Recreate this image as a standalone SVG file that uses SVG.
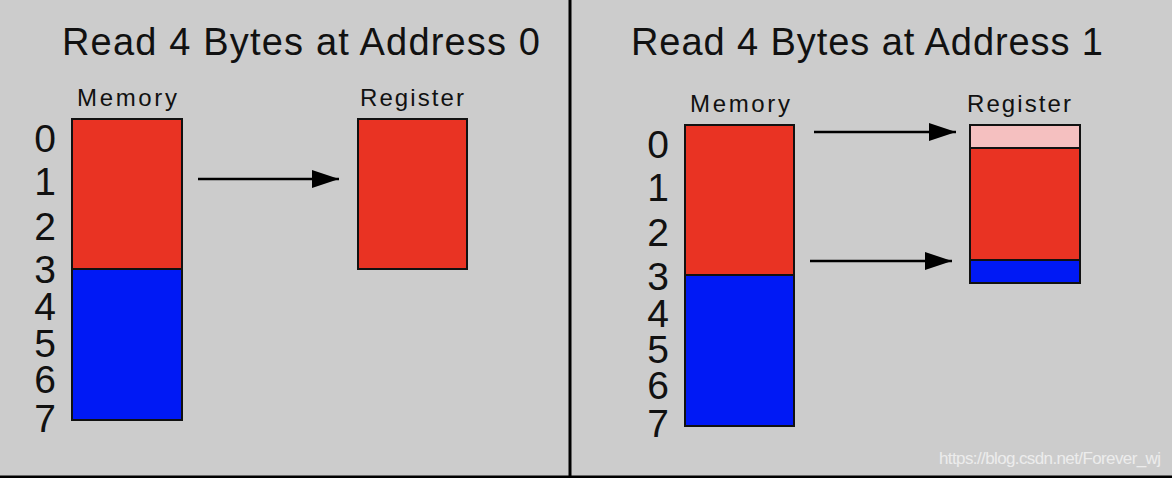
<svg xmlns="http://www.w3.org/2000/svg" width="1172" height="478" viewBox="0 0 1172 478">
<defs>
<style>
.t{font-family:"Liberation Sans",Arial,sans-serif;fill:#111;}
.title{font-size:38px;}
.lab{font-size:24px;text-anchor:middle;}
.dig{font-size:39px;text-anchor:middle;}
.red{fill:#e93323;stroke:#111;stroke-width:2;}
.blue{fill:#0019f5;stroke:#111;stroke-width:2;}
.pink{fill:#f5c0c0;stroke:#111;stroke-width:2;}
.arr{stroke:#000;stroke-width:2.5;fill:none;marker-end:url(#ah);}
</style>
<marker id="ah" markerUnits="userSpaceOnUse" markerWidth="28" markerHeight="20" refX="27" refY="9" orient="auto">
<path d="M0,0 L27,9 L0,18 Z" fill="#000"/>
</marker>
</defs>
<rect x="0" y="0" width="1172" height="478" fill="#cccccc"/>
<rect x="568.5" y="0" width="3" height="478" fill="#000"/>
<rect x="0" y="475.5" width="1172" height="2.5" fill="#000"/>

<g id="left-panel">
<text class="t title" x="62" y="55" textLength="478" lengthAdjust="spacing">Read 4 Bytes at Address 0</text>
</g>
<g id="left-memory">
<text class="t lab" x="127" y="106" textLength="100">Memory</text>
<rect class="red" x="72" y="119" width="110" height="150"/>
<rect class="blue" x="72" y="269" width="110" height="151"/>
<g class="t dig">
<text x="45" y="152">0</text>
<text x="45" y="195">1</text>
<text x="45" y="240">2</text>
<text x="45" y="283">3</text>
<text x="45" y="320">4</text>
<text x="45" y="357">5</text>
<text x="45" y="393">6</text>
<text x="45" y="432">7</text>
</g>
</g>
<g id="left-register">
<text class="t lab" x="412" y="106" textLength="104">Register</text>
<rect class="red" x="358" y="119" width="109" height="150"/>
</g>

<g id="right-panel">
<text class="t title" x="631" y="55" textLength="472" lengthAdjust="spacing">Read 4 Bytes at Address 1</text>
</g>
<g id="right-memory">
<text class="t lab" x="740" y="112" textLength="100">Memory</text>
<rect class="red" x="685" y="125" width="109" height="150"/>
<rect class="blue" x="685" y="275" width="109" height="151"/>
<g class="t dig">
<text x="658" y="158">0</text>
<text x="658" y="201">1</text>
<text x="658" y="246">2</text>
<text x="658" y="290">3</text>
<text x="658" y="327">4</text>
<text x="658" y="363">5</text>
<text x="658" y="399">6</text>
<text x="658" y="437">7</text>
</g>
</g>
<g id="right-register">
<text class="t lab" x="1019" y="112" textLength="104">Register</text>
<rect class="pink" x="970" y="125" width="110" height="23"/>
<rect class="red" x="970" y="148" width="110" height="112"/>
<rect class="blue" x="970" y="260" width="110" height="23"/>
</g>

<g id="connectors">
<line class="arr" x1="198" y1="179" x2="339" y2="179"/>
<line class="arr" x1="814" y1="132" x2="956" y2="132"/>
<line class="arr" x1="810" y1="261" x2="952" y2="261"/>
</g>

<text class="t" x="939" y="464" style="font-size:17px;fill:#ececec;" textLength="222">https://blog.csdn.net/Forever_wj</text>
</svg>
